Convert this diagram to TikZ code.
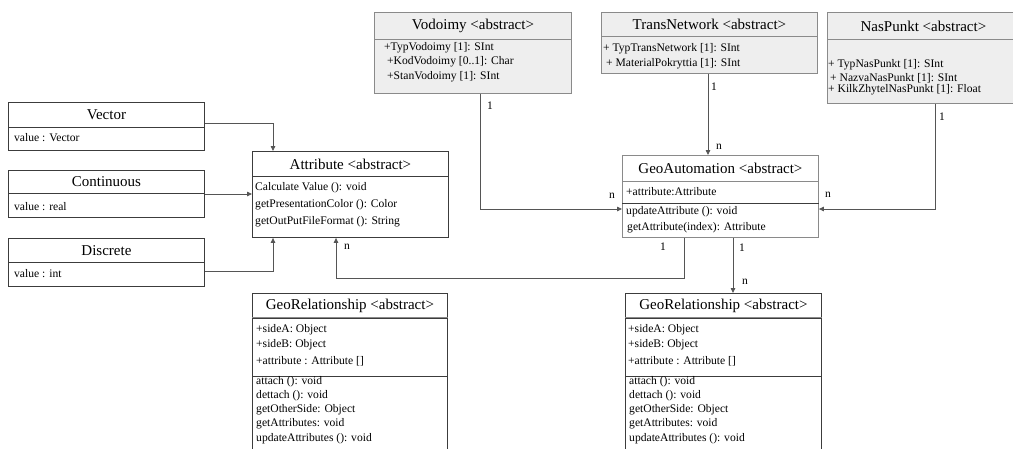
\documentclass[tikz,border=0pt]{standalone}
\usepackage{fontspec}
\setmainfont{Liberation Serif}
\usetikzlibrary{arrows.meta,calc}
\definecolor{gfill}{HTML}{EEEEEE}
\definecolor{gline}{HTML}{8A8A8A}
\definecolor{dline}{HTML}{3C3C3C}
\definecolor{cline}{HTML}{555555}
\begin{document}
\begin{tikzpicture}[x=1pt,y=-1pt,
  part/.style={draw, rectangle, inner sep=0pt, anchor=north west, line width=0.9pt},
  gpart/.style={part, draw=gline, fill=gfill},
  wpart/.style={part, draw=dline, fill=white},
  ttl/.style={font=\fontsize{15}{18}\selectfont},
  body/.style={font=\fontsize{11.6}{13}\selectfont, anchor=west, inner sep=0pt},
  conn/.style={draw=cline, line width=0.8pt},
  arr/.style={conn, -{Triangle[length=5pt,width=4.5pt]}},
  lbl/.style={font=\fontsize{11.5}{13}\selectfont, inner sep=0pt}]
\useasboundingbox (0,0) rectangle (1013,448);

% ---- Vodoimy
\node[gpart, ttl, minimum width=197pt, minimum height=27pt] (vodT) at (374,12) {Vodoimy <abstract>};
\node[gpart, minimum width=197pt, minimum height=54pt] (vodA) at (374,39) {};
\node[body] (vod1) at (384,48) {+TypVodoimy [1]: SInt};
\node[body] (vod2) at (387,62) {+KodVodoimy [0..1]: Char};
\node[body] (vod3) at (387,77) {+StanVodoimy [1]: SInt};

% ---- TransNetwork
\node[gpart, ttl, minimum width=216pt, minimum height=24pt] (trT) at (601,12) {TransNetwork <abstract>};
\node[gpart, minimum width=216pt, minimum height=37pt] (trA) at (601,36) {};
\node[body] (tr1) at (603,49) {+ TypTransNetwork [1]: SInt};
\node[body] (tr2) at (606,64) {+ MaterialPokryttia [1]: SInt};

% ---- NasPunkt
\node[gpart, ttl, minimum width=192pt, minimum height=27pt] (nasT) at (827,12) {NasPunkt <abstract>};
\node[gpart, minimum width=192pt, minimum height=64pt] (nasA) at (827,39) {};
\node[body] (nas1) at (828,65) {+ TypNasPunkt [1]: SInt};
\node[body] (nas2) at (830,78) {+ NazvaNasPunkt [1]: SInt};
\node[body] (nas3) at (828,90) {+ KilkZhytelNasPunkt [1]: Float};

% ---- Vector / Continuous / Discrete
\node[wpart, ttl, minimum width=196pt, minimum height=25pt] (vecT) at (8,102) {Vector};
\node[wpart, minimum width=196pt, minimum height=23pt] (vecA) at (8,127) {};
\node[body] (vec1) at (14,138) {value : Vector};
\node[wpart, ttl, minimum width=196pt, minimum height=23pt] (conT) at (8,170) {Continuous};
\node[wpart, minimum width=196pt, minimum height=24pt] (conA) at (8,193) {};
\node[body] (con1) at (14,207) {value : real};
\node[wpart, ttl, minimum width=196pt, minimum height=24pt] (disT) at (8,238) {Discrete};
\node[wpart, minimum width=196pt, minimum height=24pt] (disA) at (8,262) {};
\node[body] (dis1) at (14,274) {value : int};

% ---- Attribute
\node[wpart, ttl, minimum width=196pt, minimum height=25pt] (atT) at (252,151) {Attribute <abstract>};
\node[wpart, minimum width=196pt, minimum height=61pt] (atM) at (252,176) {};
\node[body] (at1) at (255,188) {Calculate Value (): void};
\node[body] (at2) at (255,205) {getPresentationColor (): Color};
\node[body] (at3) at (255,222) {getOutPutFileFormat (): String};

% ---- GeoAutomation
\node[part, draw=gline, fill=white, ttl, minimum width=196pt, minimum height=26pt] (geoT) at (622,155) {GeoAutomation <abstract>};
\node[part, draw=gline, fill=white, minimum width=196pt, minimum height=22pt] (geoA) at (622,181) {};
\node[part, draw=gline, fill=white, minimum width=196pt, minimum height=34pt] (geoM) at (622,203) {};
\draw[dline, line width=0.9pt] (geoA.south west) -- (geoA.south east);
\node[body] (geo1) at (626,192) {+attribute:Attribute};
\node[body] (geo2) at (626,212) {updateAttribute (): void};
\node[body] (geo3) at (627,228) {getAttribute(index): Attribute};

% ---- GeoRelationship (left)
\node[wpart, ttl, minimum width=195pt, minimum height=25pt] (gr1T) at (252,293) {GeoRelationship <abstract>};
\node[wpart, minimum width=195pt, minimum height=58pt] (gr1A) at (252,318) {};
\node[wpart, minimum width=195pt, minimum height=80pt] (gr1M) at (252,376) {};
\draw[gline, line width=1.2pt] ([yshift=1.5pt]gr1T.south west) -- ([yshift=1.5pt]gr1T.south east);
\node[body] (gr1a) at (256,330) {+sideA: Object};
\node[body] (gr1b) at (256,345) {+sideB: Object};
\node[body] (gr1c) at (256,361) {+attribute : Attribute []};
\node[body] (gr1d) at (256,382) {attach (): void};
\node[body] (gr1e) at (256,396) {dettach (): void};
\node[body] (gr1f) at (256,410) {getOtherSide: Object};
\node[body] (gr1g) at (256,424) {getAttributes: void};
\node[body] (gr1h) at (256,439) {updateAttributes (): void};

% ---- GeoRelationship (right)
\node[wpart, ttl, minimum width=196pt, minimum height=25pt] (gr2T) at (625,293) {GeoRelationship <abstract>};
\node[wpart, minimum width=196pt, minimum height=58pt] (gr2A) at (625,318) {};
\node[wpart, minimum width=196pt, minimum height=80pt] (gr2M) at (625,376) {};
\draw[gline, line width=1.2pt] ([yshift=1.5pt]gr2T.south west) -- ([yshift=1.5pt]gr2T.south east);
\node[body] (gr2a) at (628,330) {+sideA: Object};
\node[body] (gr2b) at (628,345) {+sideB: Object};
\node[body] (gr2c) at (628,361) {+attribute : Attribute []};
\node[body] (gr2d) at (629,382) {attach (): void};
\node[body] (gr2e) at (629,396) {dettach (): void};
\node[body] (gr2f) at (629,410) {getOtherSide: Object};
\node[body] (gr2g) at (629,424) {getAttributes: void};
\node[body] (gr2h) at (629,439) {updateAttributes (): void};

% ---- connectors
\draw[arr] ($(vecT.south east)+(0,-5)$) -| ($(atT.north west)+(21,0)$);
\draw[arr] ($(conA.north east)+(0,1)$) -- ($(atM.north west)+(0,18)$);
\draw[arr] ($(disA.north east)+(0,9)$) -| ($(atM.south west)+(21,0)$);

\draw[arr] ($(vodA.south west)+(106,0)$) |- ($(geoM.north west)+(0,6)$);
\draw[arr] ($(trA.south west)+(107,0)$) -- ($(geoT.north west)+(86,0)$);
\draw[arr] ($(nasA.south west)+(108,0)$) |- ($(geoM.north east)+(0,6)$);

\draw[arr] ($(geoM.south west)+(62,0)$) -- ($(geoM.south west)+(62,40)$) -| ($(atM.south west)+(84,0)$);
\draw[arr] ($(geoM.south west)+(111,0)$) -- ($(gr2T.north west)+(108,0)$);

% ---- multiplicities
\node[lbl] (m1) at (490,106) {1};
\node[lbl] (m2) at (714,87) {1};
\node[lbl] (m3) at (719,147) {n};
\node[lbl] (m4) at (942,117) {1};
\node[lbl] (m5) at (828,195) {n};
\node[lbl] (m6) at (612,196) {n};
\node[lbl] (m7) at (663,247) {1};
\node[lbl] (m8) at (347,247) {n};
\node[lbl] (m9) at (742,248) {1};
\node[lbl] (m10) at (745,282) {n};
\end{tikzpicture}
\end{document}
